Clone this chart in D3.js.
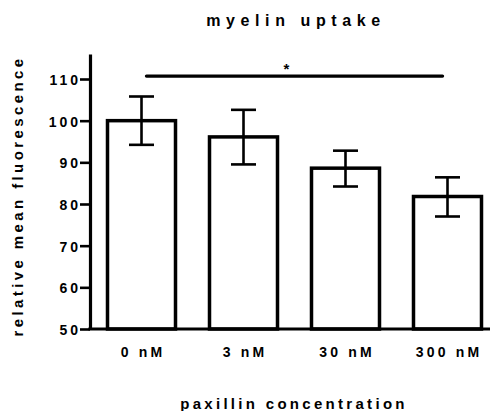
<!DOCTYPE html>
<html>
<head>
<meta charset="utf-8">
<script src="https://cdn.jsdelivr.net/npm/d3@7"></script>
<style>
  html, body { margin: 0; padding: 0; background: #fff; }
  svg { display: block; }
  text { font-family: "Liberation Sans", Arial, sans-serif; font-weight: bold; fill: #000; }
</style>
</head>
<body>
<svg id="chart" width="492" height="411"></svg>
<script>
// Myelin uptake vs paxillin concentration (mean ± error)
const categories = ["0 nM", "3 nM", "30 nM", "300 nM"];
const means = [100, 96.1, 88.6, 81.8];
const upper = [105.8, 102.6, 92.8, 86.4];
const lower = [94.2, 89.5, 84.2, 77.0];
const yTicks = [50, 60, 70, 80, 90, 100, 110];
const significance = { from: "0 nM", to: "300 nM", value: 110.7, label: "*" };

const svg = d3.select("#chart");

const y = d3.scaleLinear().domain([50, 116]).range([329, 54]);
const x = d3.scaleBand()
  .domain(categories)
  .range([90, 499])
  .paddingInner(1 / 3)
  .paddingOuter(0.1716);

const axisX0 = 90, axisX1 = 490;

// Title
svg.append("text")
  .attr("x", 296).attr("y", 26)
  .attr("text-anchor", "middle")
  .style("font-size", "16px")
  .style("letter-spacing", "5.6px")
  .text("myelin uptake");

// Bars
svg.append("g").selectAll("rect")
  .data(categories)
  .join("rect")
  .attr("x", d => x(d))
  .attr("width", x.bandwidth())
  .attr("y", (d, i) => y(means[i]))
  .attr("height", (d, i) => y(50) - y(means[i]))
  .attr("fill", "#fff")
  .attr("stroke", "#000")
  .attr("stroke-width", 3.5);

// Error bars
const capHalf = 12.5;
const eb = svg.append("g").attr("stroke", "#000").attr("stroke-width", 2.6);
categories.forEach((c, i) => {
  const cx = x(c) + x.bandwidth() / 2;
  eb.append("line").attr("x1", cx).attr("x2", cx).attr("y1", y(upper[i])).attr("y2", y(lower[i]));
  eb.append("line").attr("x1", cx - capHalf).attr("x2", cx + capHalf).attr("y1", y(upper[i])).attr("y2", y(upper[i]));
  eb.append("line").attr("x1", cx - capHalf).attr("x2", cx + capHalf).attr("y1", y(lower[i])).attr("y2", y(lower[i]));
});

// Y axis
const yAxis = d3.axisLeft(y).tickValues(yTicks).tickSize(10).tickSizeOuter(0).tickPadding(3);
const gy = svg.append("g").attr("transform", `translate(${axisX0},0)`).call(yAxis);
gy.select(".domain").attr("stroke", "#000").attr("stroke-width", 3.2);
gy.selectAll(".tick line").attr("stroke", "#000").attr("stroke-width", 2.6);
gy.selectAll(".tick text")
  .style("font-size", "14px")
  .style("letter-spacing", "3px")
  .style("font-family", "'Liberation Sans', Arial, sans-serif")
  .style("font-weight", "bold")
  .attr("dy", "0.4em")
  .attr("x", -9);

// X axis baseline
svg.append("line")
  .attr("x1", axisX0 - 1.6).attr("x2", axisX1)
  .attr("y1", y(50)).attr("y2", y(50))
  .attr("stroke", "#000").attr("stroke-width", 3.2);

// X tick labels
svg.append("g").selectAll("text")
  .data(categories)
  .join("text")
  .attr("x", d => x(d) + x.bandwidth() / 2 + 1.5)
  .attr("y", 357)
  .attr("text-anchor", "middle")
  .style("font-size", "14px")
  .style("letter-spacing", "3.2px")
  .text(d => d);

// Axis titles
svg.append("text")
  .attr("x", 294).attr("y", 409)
  .attr("text-anchor", "middle")
  .style("font-size", "15px")
  .style("letter-spacing", "3.3px")
  .text("paxillin concentration");

svg.append("text")
  .attr("transform", "translate(23,196) rotate(-90)")
  .attr("text-anchor", "middle")
  .style("font-size", "15px")
  .style("letter-spacing", "3.4px")
  .text("relative mean fluorescence");

// Significance bracket
const sx1 = x(significance.from) + x.bandwidth() / 2 + 5;
const sx2 = x(significance.to) + x.bandwidth() / 2 - 5;
svg.append("line")
  .attr("x1", sx1).attr("x2", sx2)
  .attr("y1", y(significance.value)).attr("y2", y(significance.value))
  .attr("stroke", "#000").attr("stroke-width", 3.4)
  .attr("stroke-linecap", "round");
svg.append("text")
  .attr("x", (sx1 + sx2) / 2 - 8)
  .attr("y", y(significance.value) - 2)
  .attr("text-anchor", "middle")
  .style("font-size", "15px")
  .text(significance.label);
</script>
</body>
</html>
